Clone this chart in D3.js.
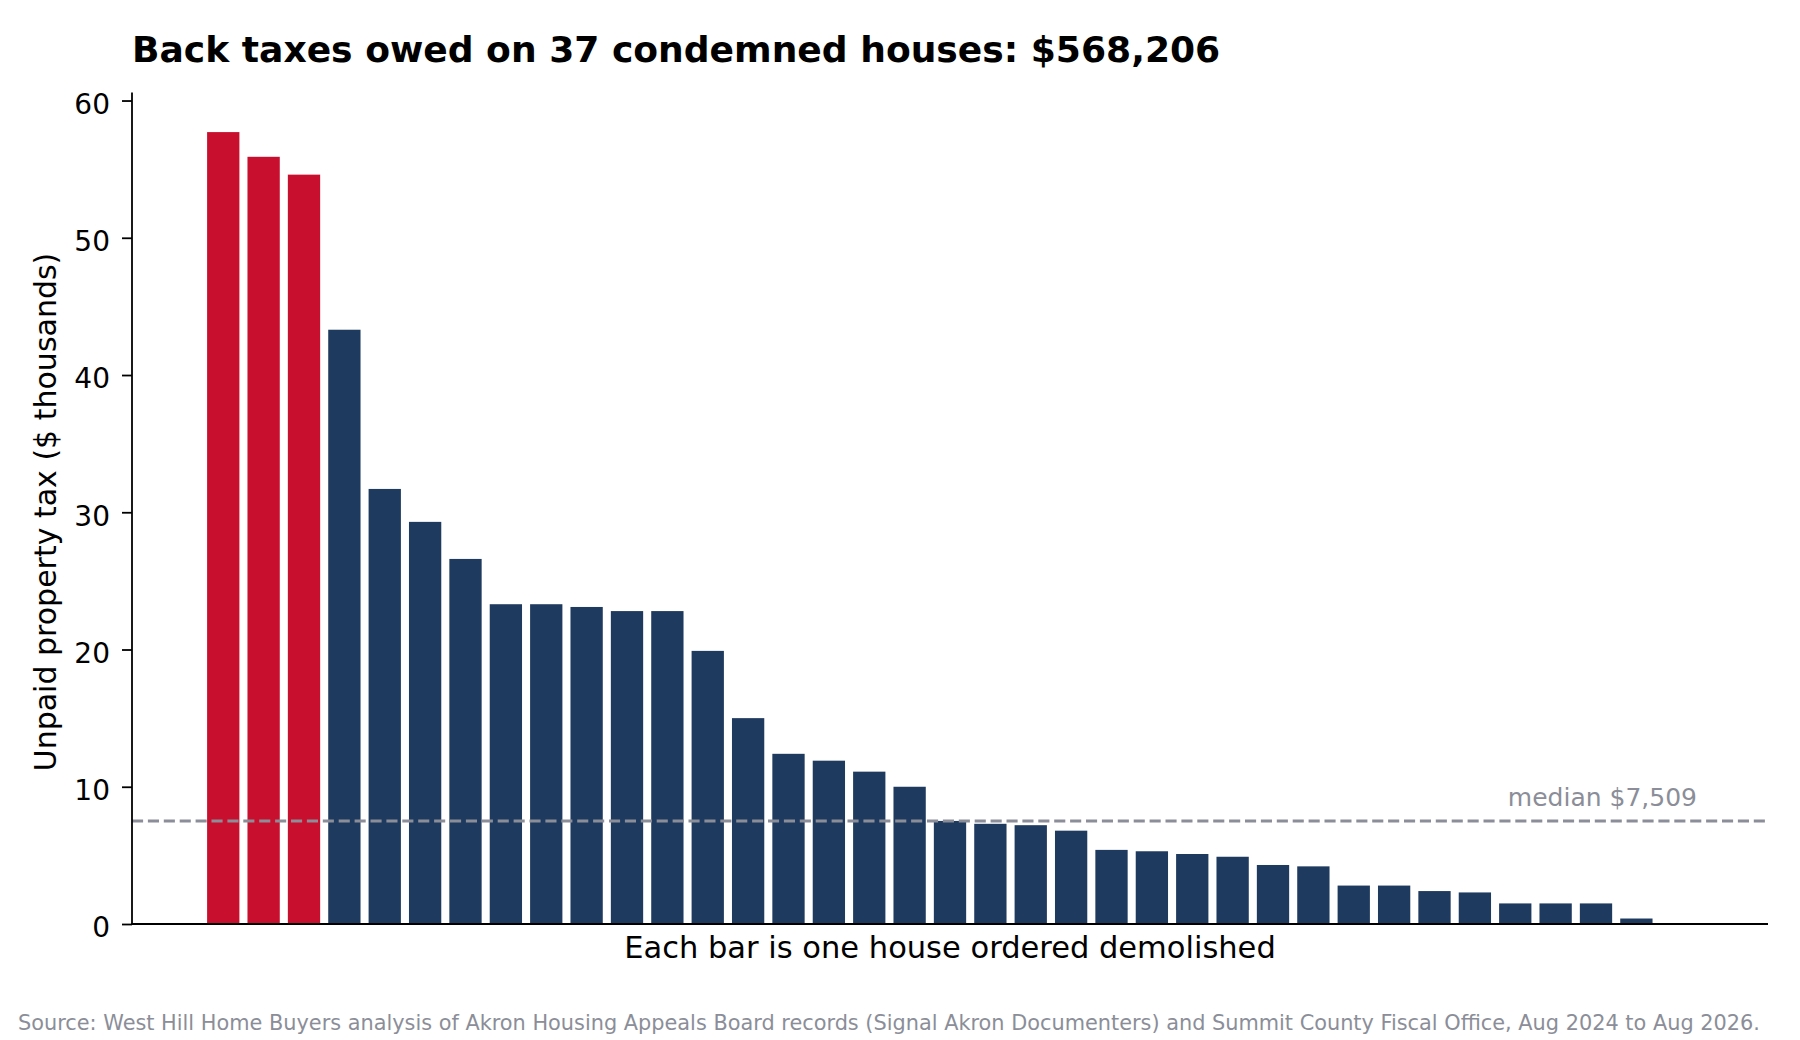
<!DOCTYPE html>
<html>
<head>
<meta charset="utf-8">
<script src="https://cdn.jsdelivr.net/npm/d3@7"></script>
<style>
  body { margin: 0; background: #fff; }
  text { font-family: "DejaVu Sans", sans-serif; }
</style>
</head>
<body>
<script>
// Unpaid property tax per condemned house, $ thousands, sorted high to low
var owed = [57.7, 55.9, 54.6, 43.3, 31.7, 29.3, 26.6, 23.3, 23.3, 23.1, 22.8, 22.8,
    19.9, 15.0, 12.4, 11.9, 11.1, 10.0, 7.509, 7.3, 7.2, 6.8, 5.4, 5.3, 5.1, 4.9,
    4.3, 4.2, 2.8, 2.8, 2.4, 2.3, 1.5, 1.5, 1.5, 0.4, 0];
var houses = d3.range(owed.length);
// the three largest debts are highlighted
var highlighted = houses.map(function (i) { return i < 3; });
var median = 7.509;
var yTicks = [0, 10, 20, 30, 40, 50, 60];

var title = "Back taxes owed on 37 condemned houses: $568,206";
var yLabel = "Unpaid property tax ($ thousands)";
var xLabel = "Each bar is one house ordered demolished";
var medianLabel = "median $7,509";
var source = "Source: West Hill Home Buyers analysis of Akron Housing Appeals Board records (Signal Akron Documenters) and Summit County Fiscal Office, Aug 2024 to Aug 2026.";

var w = 1800;
var h = 1040;
var plotL = 132, plotR = 1768, plotT = 92.5, plotB = 924;

var red = "#c8102e";
var navy = "#1f3a5f";
var grey = "#8b8e98";

//Create scale functions
var xScale = d3.scaleLinear()
    .domain([-2.26, owed.length - 1 + 2.26])
    .range([plotL, plotR]);
var yScale = d3.scaleLinear()
    .domain([0, d3.max(owed) * 1.05])
    .range([plotB, plotT]);
var barW = (xScale(1) - xScale(0)) * 0.8;

var svg = d3.select("body")
    .append("svg")
    .attr("width", w)
    .attr("height", h);

//Bars
svg.selectAll("rect.bar")
    .data(houses)
    .enter()
    .append("rect")
    .attr("class", "bar")
    .attr("x", function (i) { return xScale(i) - barW / 2; })
    .attr("width", barW)
    .attr("y", function (i) { return yScale(owed[i]); })
    .attr("height", function (i) { return yScale(0) - yScale(owed[i]); })
    .attr("fill", function (i) { return highlighted[i] ? red : navy; });

//Median line
svg.append("line")
    .attr("x1", plotL)
    .attr("x2", plotR)
    .attr("y1", yScale(median))
    .attr("y2", yScale(median))
    .attr("stroke", grey)
    .attr("stroke-width", 3)
    .attr("stroke-dasharray", "11.1,4.8");

svg.append("text")
    .attr("x", 1697)
    .attr("y", yScale(median) - 15)
    .attr("text-anchor", "end")
    .attr("font-size", "25px")
    .attr("fill", grey)
    .text(medianLabel);

//Y axis
var yAxis = d3.axisLeft()
    .scale(yScale)
    .tickValues(yTicks)
    .tickSize(10)
    .tickPadding(12);
var gy = svg.append("g")
    .attr("transform", "translate(" + plotL + ",0)")
    .call(yAxis);
gy.select(".domain")
    .attr("d", "M0," + plotT + "V" + plotB)
    .attr("stroke", "#000")
    .attr("stroke-width", 1.8);
gy.selectAll(".tick line").attr("stroke", "#000").attr("stroke-width", 1.8);
gy.selectAll(".tick text")
    .attr("font-family", "DejaVu Sans")
    .attr("font-size", "28px")
    .attr("dy", "0.46em")
    .attr("fill", "#000");

//X axis line (no ticks)
svg.append("line")
    .attr("x1", plotL - 0.9)
    .attr("x2", plotR)
    .attr("y1", plotB)
    .attr("y2", plotB)
    .attr("stroke", "#000")
    .attr("stroke-width", 1.8);

//Labels
svg.append("text")
    .attr("x", plotL)
    .attr("y", 62)
    .attr("font-size", "36.1px")
    .attr("font-weight", "bold")
    .attr("fill", "#000")
    .text(title);

svg.append("text")
    .attr("transform", "translate(56,512) rotate(-90)")
    .attr("text-anchor", "middle")
    .attr("font-size", "30px")
    .attr("fill", "#000")
    .text(yLabel);

svg.append("text")
    .attr("x", (plotL + plotR) / 2)
    .attr("y", 958)
    .attr("text-anchor", "middle")
    .attr("font-size", "30.5px")
    .attr("fill", "#000")
    .text(xLabel);

svg.append("text")
    .attr("x", 18)
    .attr("y", 1030)
    .attr("font-size", "20.85px")
    .attr("fill", grey)
    .text(source);
</script>
</body>
</html>
